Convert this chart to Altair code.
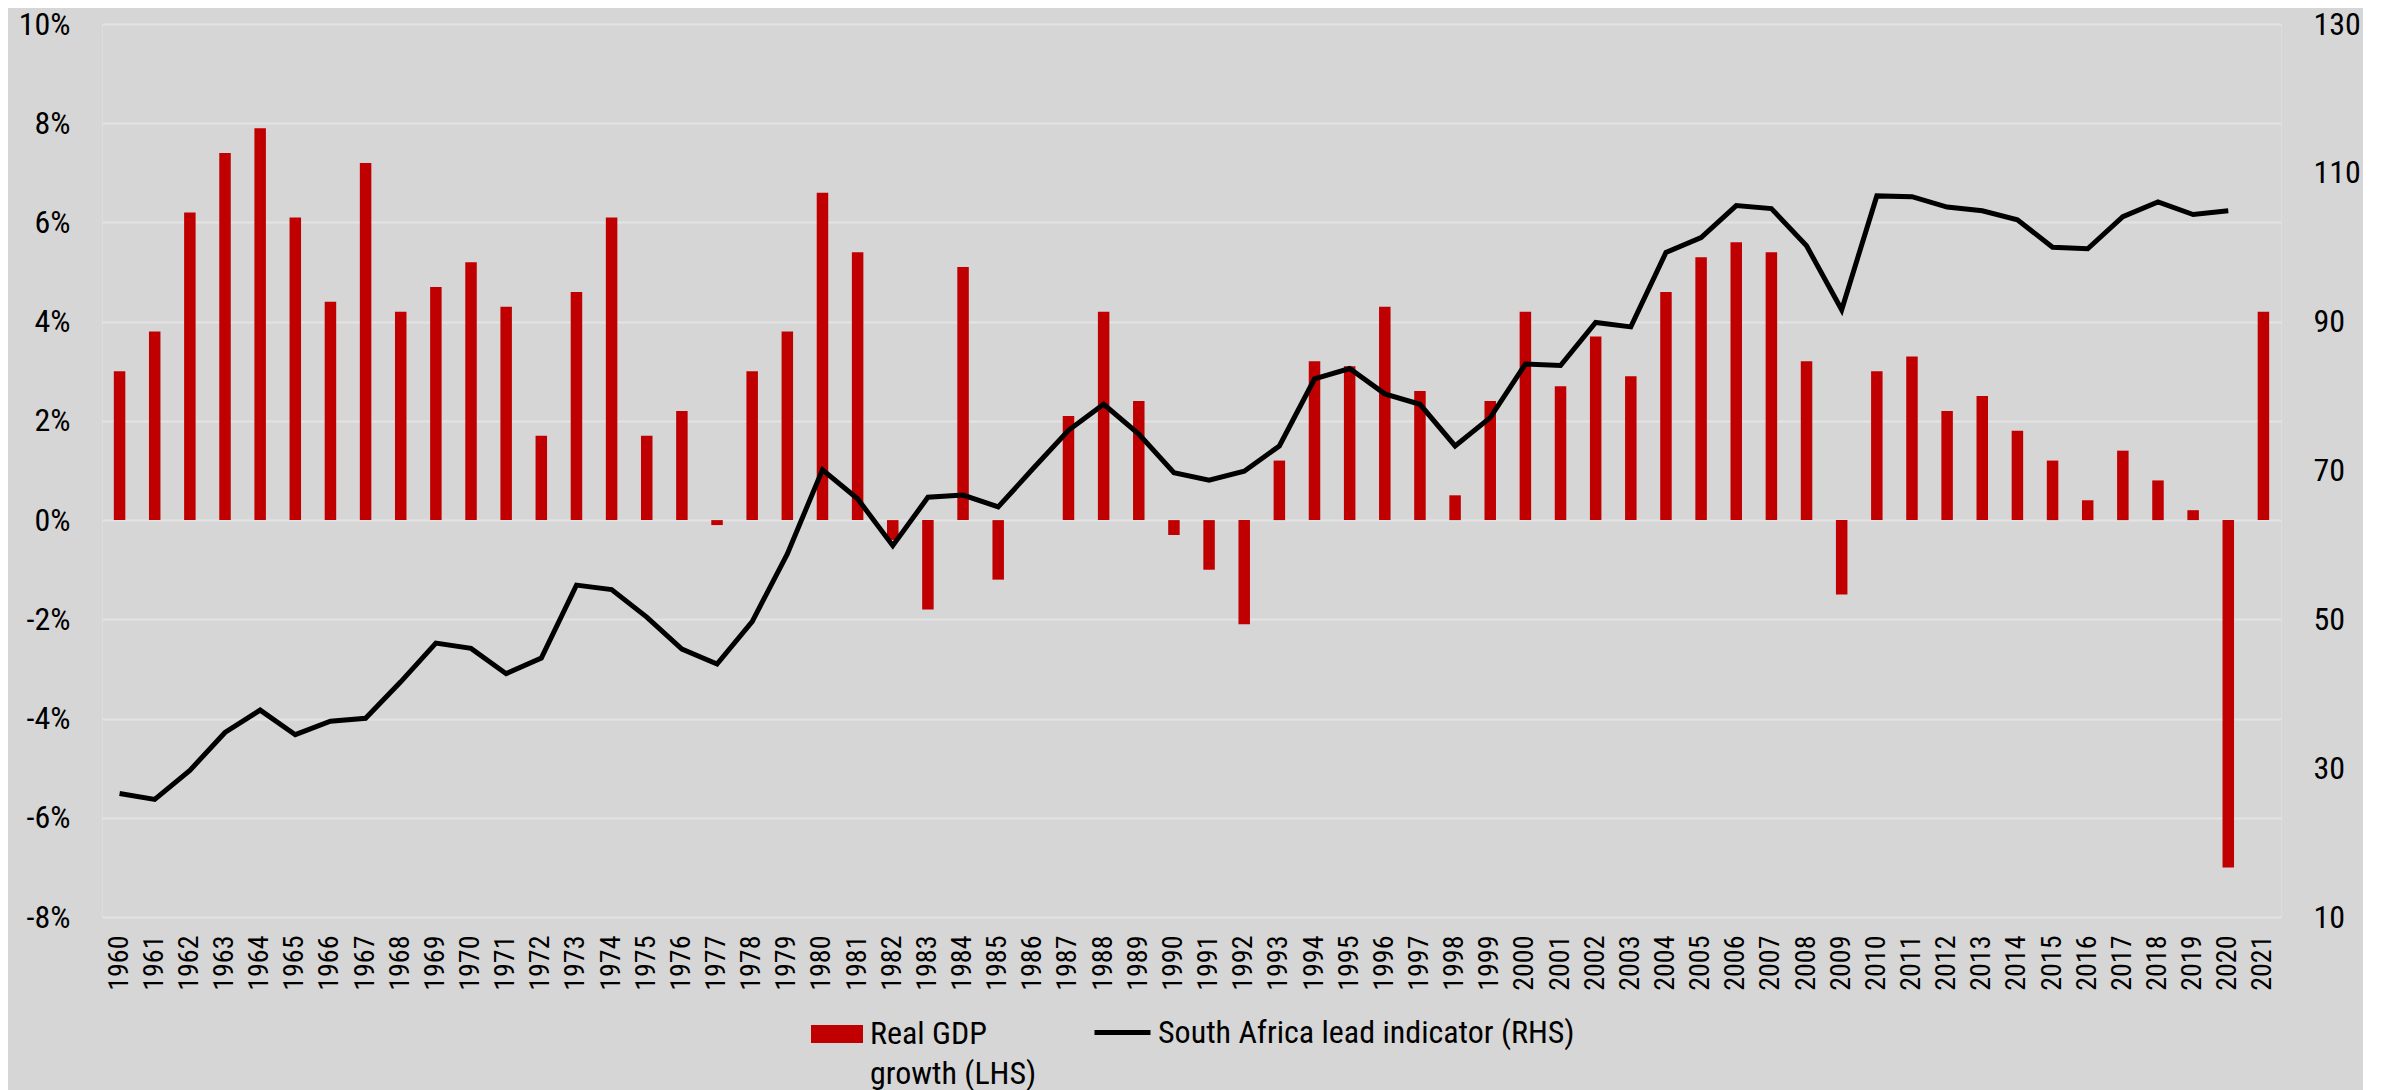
import altair as alt
import pandas as pd

# ---------------- data ----------------
years = [str(y) for y in range(1960, 2022)]

gdp_growth = [
    3.0, 3.8, 6.2, 7.4, 7.9, 6.1, 4.4, 7.2, 4.2, 4.7,   # 1960-1969
    5.2, 4.3, 1.7, 4.6, 6.1, 1.7, 2.2, -0.1, 3.0, 3.8,  # 1970-1979
    6.6, 5.4, -0.4, -1.8, 5.1, -1.2, 0.0, 2.1, 4.2, 2.4, # 1980-1989
    -0.3, -1.0, -2.1, 1.2, 3.2, 3.1, 4.3, 2.6, 0.5, 2.4, # 1990-1999
    4.2, 2.7, 3.7, 2.9, 4.6, 5.3, 5.6, 5.4, 3.2, -1.5,  # 2000-2009
    3.0, 3.3, 2.2, 2.5, 1.8, 1.2, 0.4, 1.4, 0.8, 0.2,   # 2010-2019
    -7.0, 4.2,                                          # 2020-2021
]

lead_indicator = [
    26.6, 25.8, 29.7, 34.8, 37.8, 34.5, 36.3, 36.7, 41.6, 46.8,   # 1960-1969
    46.1, 42.7, 44.8, 54.6, 54.0, 50.3, 46.0, 44.0, 49.7, 58.8,   # 1970-1979
    70.1, 66.2, 59.9, 66.4, 66.7, 65.1, 70.3, 75.4, 78.9, 74.9,   # 1980-1989
    69.7, 68.7, 69.9, 73.3, 82.3, 83.7, 80.3, 78.9, 73.3, 77.1,   # 1990-1999
    84.3, 84.1, 89.9, 89.3, 99.3, 101.3, 105.6, 105.2, 100.2, 91.6,  # 2000-2009
    106.9, 106.8, 105.4, 104.9, 103.7, 100.0, 99.8, 104.1, 106.1, 104.4,  # 2010-2019
    104.9, None,                                                  # 2020-2021
]

left_ticks = [-8, -6, -4, -2, 0, 2, 4, 6, 8, 10]
right_ticks = [10, 30, 50, 70, 90, 110, 130]

gdp_name = "Real GDP growth (LHS)"
lead_name = "South Africa lead indicator (RHS)"

df = pd.DataFrame({
    "year": years,
    "gdp": gdp_growth,
    "lead": lead_indicator,
    "gdp_series": gdp_name,
    "lead_series": lead_name,
})

FONT = "Roboto Condensed, DejaVu Sans Condensed, sans-serif"
RED = "#c00000"

x_enc = alt.X(
    "year:O",
    title=None,
    sort=None,
    scale=alt.Scale(paddingInner=0.67, paddingOuter=0.335),
    axis=alt.Axis(
        labelAngle=270,
        labelFont=FONT,
        labelFontSize=28,
        labelColor="black",
        labelPadding=18,
        ticks=False,
        tickSize=0,
        domain=False,
        grid=False,
    ),
)

bars = alt.Chart(df).mark_bar(size=11.5).encode(
    x=x_enc,
    y=alt.Y(
        "gdp:Q",
        title=None,
        scale=alt.Scale(domain=[-8, 10], nice=False, zero=False),
        axis=alt.Axis(
            orient="left",
            values=left_ticks,
            labelExpr="datum.value + '%'",
            labelFont=FONT,
            labelFontSize=32,
            labelColor="black",
            labelPadding=32,
            ticks=False,
            tickSize=0,
            domain=False,
            grid=True,
            gridColor="#e3e3e3",
            gridWidth=2,
        ),
    ),
    y2=alt.datum(0),
    color=alt.Color(
        "gdp_series:N",
        scale=alt.Scale(domain=[gdp_name], range=[RED]),
        legend=alt.Legend(
            title=None,
            orient="none",
            legendX=709,
            legendY=984,
            padding=0,
            symbolType="M-1,-0.346H1V0.346H-1Z",
            symbolSize=2704,
            symbolStrokeWidth=0,
            symbolOpacity=1,
            labelFont=FONT,
            labelFontSize=32,
            labelColor="black",
            labelLimit=1000,
            labelOffset=7,
            labelExpr="datum.label == '" + gdp_name + "' ? ['Real GDP', 'growth (LHS)'] : datum.label",
        ),
    ),
)

line = alt.Chart(df).transform_filter("datum.lead != null").mark_line(strokeWidth=5).encode(
    x=x_enc,
    y=alt.Y(
        "lead:Q",
        title=None,
        scale=alt.Scale(domain=[10, 130], nice=False, zero=False),
        axis=alt.Axis(
            orient="right",
            values=right_ticks,
            labelFont=FONT,
            labelFontSize=32,
            labelColor="black",
            labelPadding=32,
            ticks=False,
            tickSize=0,
            domain=False,
            grid=False,
        ),
    ),
    stroke=alt.Stroke(
        "lead_series:N",
        scale=alt.Scale(domain=[lead_name], range=["black"]),
        legend=alt.Legend(
            title=None,
            orient="none",
            legendX=990,
            legendY=978,
            padding=0,
            symbolType="stroke",
            symbolSize=3136,
            symbolStrokeWidth=5,
            labelFont=FONT,
            labelFontSize=32,
            labelColor="black",
            labelLimit=1000,
            labelOffset=5,
        ),
    ),
)

chart = (
    alt.layer(bars, line)
    .resolve_scale(y="independent", color="independent", stroke="independent")
    .properties(
        width=2179,
        height=893,
        autosize=alt.AutoSizeParams(type="none"),
        padding={"left": 94, "top": 16, "right": 82, "bottom": 173},
        background="#d6d6d6",
    )
    .configure_view(stroke=None)
    .configure(style={"guide-label": {"lineHeight": 40}})
)

chart.save("out.html", embed_options={"renderer": "svg", "actions": False})
